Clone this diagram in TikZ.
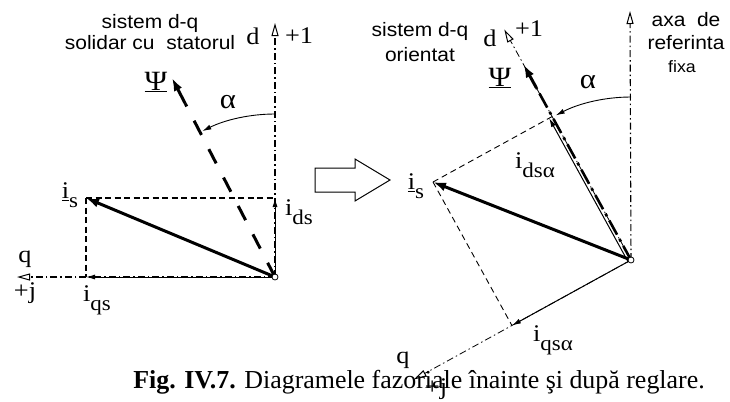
\documentclass[tikz,border=0pt]{standalone}
\usepackage{fontspec}
\setmainfont{Liberation Serif}
\newfontfamily\arialf{Liberation Sans}[FakeStretch=1.08]
\newfontfamily\serifw{Liberation Serif}[FakeStretch=1.1]
\usetikzlibrary{arrows.meta,calc}
\newcommand\lblfont{\serifw\fontsize{24}{26}\selectfont}
\newcommand\grkfont{\serifw\fontsize{28}{30}\selectfont}
\newcommand\sbs[1]{\raisebox{-0.8ex}{\fontsize{21}{22}\selectfont #1}}
\newcommand\sanslbl{\arialf\fontsize{19.5}{21}\selectfont}
\newcommand\ul[1]{\underline{#1}}
\begin{document}
\begin{tikzpicture}[x=1bp,y=-1bp,
  dashdot/.style={line width=1.1bp, dash pattern=on 7bp off 3bp on 1.5bp off 3bp},
  rectdash/.style={line width=1.4bp, dash pattern=on 6bp off 3.5bp},
  rectdashthin/.style={line width=0.9bp, dash pattern=on 6bp off 4bp},
  thinarrow/.style={line width=1bp, -{Latex[length=9bp,width=5bp]}},
  thickarrow/.style={line width=3bp, -{Latex[length=13bp,width=9bp]}},
  psidash/.style={line width=3bp, dash pattern=on 16bp off 16bp},
  psidashdot/.style={line width=2.6bp, dash pattern=on 16bp off 5bp on 3bp off 5bp},
  axisarrow/.style={dashdot, -{Triangle[open,length=13bp,width=7bp,line width=1bp]}},
  arcarrow/.style={line width=0.9bp, -{Latex[length=9bp,width=5bp]}},
  origin/.style={circle, draw, fill=white, line width=0.8bp, inner sep=0pt, minimum size=6bp},
  txt/.style={inner sep=0pt, font=\lblfont},
  gtxt/.style={inner sep=0pt, font=\grkfont},
  stxt/.style={inner sep=0pt, font=\sanslbl},
]
\useasboundingbox (0,0) rectangle (730,401);

% ---------- left diagram ----------
\coordinate (O1) at (275,277);
\coordinate (d1) at (275,23);
\coordinate (q1) at (17,277);
\coordinate (is1) at (86,198);
\coordinate (ids1) at (275,198);
\coordinate (iqs1) at (86,277);
\coordinate (psi1) at (172,78);
\coordinate (psi1b) at ($(O1)!0.87!(psi1)$);

\draw[axisarrow] (O1) -- (d1);
\draw[axisarrow] (O1) -- (q1);
\draw[rectdash] (is1) -- (ids1);
\draw[rectdash] (is1) -- (iqs1);
\draw[thinarrow] (O1) -- (ids1);
\draw[thinarrow] (O1) -- (iqs1);
\draw[psidash] (O1) -- (psi1b);
\draw[thickarrow] (psi1b) -- (psi1);
\draw[thickarrow] (O1) -- (is1);
\draw[arcarrow] ($(O1)+(0,-163)$) arc[start angle=-90, end angle=-116.5, radius=163];
\node[origin] (o1) at (O1) {};

\node[stxt, align=center] (t1) at (150,32) {sistem d-q\\solidar cu\ \ statorul};
\node[txt] (dl1) at (253,36) {d};
\node[txt] (p1) at (299,36) {+1};
\node[gtxt] (psil1) at (156,82) {\ul{Ψ}};
\node[gtxt] (al1) at (228,102) {α};
\node[txt] (isl1) at (70,195) {\ul{i}\sbs{s}};
\node[txt] (idsl1) at (299,212) {i\sbs{ds}};
\node[txt] (ql1) at (25,259) {q};
\node[txt] (jl1) at (25,293) {+j};
\node[txt] (iqsl1) at (97,300) {i\sbs{qs}};

% ---------- transition arrow ----------
\draw[line width=1bp, fill=white] (315,168) -- (355,168) -- (355,159) -- (390,180)
  -- (355,201) -- (355,192) -- (315,192) -- cycle;

% ---------- right diagram ----------
\coordinate (O2) at (631,260);
\coordinate (ref2) at (630,11);
\coordinate (d2) at (504.3,29.5);
\coordinate (q2) at (413.7,379.5);
\coordinate (is2) at (433,182);
\coordinate (ids2) at ($(O2)!(is2)!(d2)$);
\coordinate (iqs2) at ($(O2)!(is2)!(q2)$);
\coordinate (psi2) at (523.6,64.6);
\coordinate (psi2b) at ($(O2)!0.88!(psi2)$);

\draw[axisarrow] (O2) -- (ref2);
\draw[axisarrow, line width=0.8bp] (O2) -- (d2);
\draw[axisarrow, line width=0.8bp] (O2) -- (q2);
\draw[rectdashthin] (is2) -- (ids2);
\draw[rectdashthin] (is2) -- (iqs2);
\draw[psidashdot] (O2) -- (psi2b);
\draw[thickarrow] (psi2b) -- (psi2);
\draw[thinarrow] ($(O2)+(-3,1.6)$) -- ($(ids2)+(-3,1.6)$);
\draw[thinarrow] (O2) -- (iqs2);
\draw[thickarrow] (O2) -- (is2);
\draw[arcarrow] ($(O2)+(0,-163)$) arc[start angle=-90, end angle=-117.5, radius=163];
\node[origin] (o2) at (O2) {};

\node[stxt] (t2a) at (420,31) {sistem d-q};
\node[stxt] (t2b) at (420,55) {orientat};
\node[stxt] (ax1) at (686,20) {axa\ \ de};
\node[stxt] (ax2) at (686,43) {referinta};
\node[stxt, font=\arialf\fontsize{16.5}{18}\selectfont] (ax3) at (682,67) {fixa};
\node[txt] (dl2) at (490,38) {d};
\node[txt] (p2) at (529,29) {+1};
\node[gtxt] (psil2) at (500,78) {\ul{Ψ}};
\node[gtxt] (al2) at (588,82) {α};
\node[txt] (isl2) at (416,186) {\ul{i}\sbs{s}};
\node[txt] (idsl2) at (535,165) {i\sbs{dsα}};
\node[txt] (iqsl2) at (553,340) {i\sbs{qsα}};
\node[txt] (ql2) at (403,360) {q};
\node[txt] (jl2) at (436,389) {+j};

% ---------- caption ----------
\node[inner sep=0pt, anchor=base, font=\fontsize{26}{30}\selectfont] (cap) at (419,388)
  {\textbf{Fig. IV.7.} Diagramele fazoriale înainte şi după reglare.};
\end{tikzpicture}
\end{document}
